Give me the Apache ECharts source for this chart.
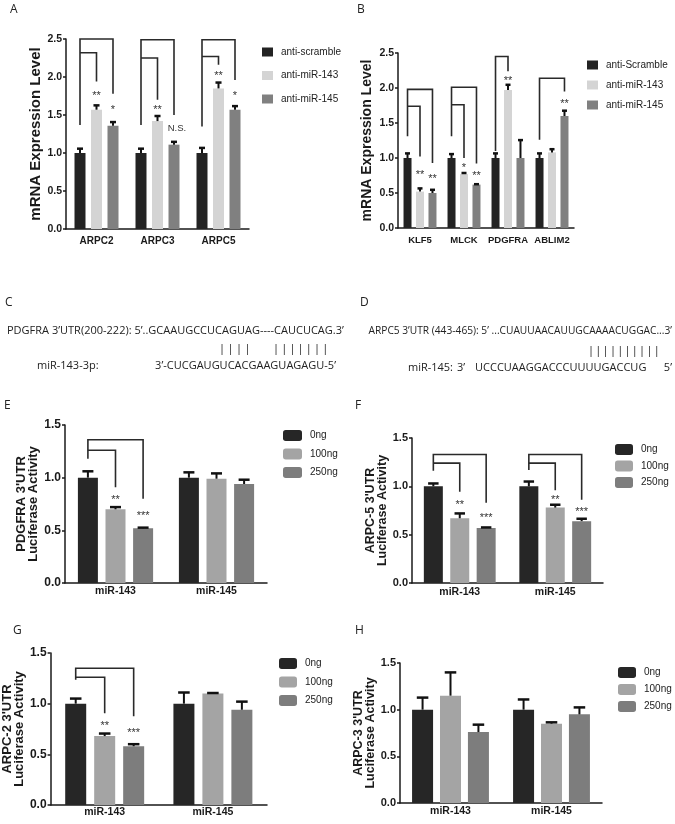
<!DOCTYPE html>
<html><head><meta charset="utf-8">
<script src="https://cdn.jsdelivr.net/npm/echarts@6/dist/echarts.min.js"></script>
<style>html,body{margin:0;padding:0;background:#fff}#c{width:675px;height:824px}</style>
</head><body><div id="c"></div>
<script>
// ---------- Panel A ----------
const catsA = ['ARPC2', 'ARPC3', 'ARPC5'];
const namesA = ['anti-scramble', 'anti-miR-143', 'anti-miR-145'];
const A_scr = [1.00, 1.00, 1.00];
const A_scrErr = [0.07, 0.07, 0.08];
const A_143 = [1.57, 1.42, 1.85];
const A_143Err = [0.07, 0.08, 0.09];
const A_145 = [1.36, 1.11, 1.57];
const A_145Err = [0.06, 0.05, 0.06];
const A_143Sig = ['**', '**', '**'];
const A_145Sig = ['*', 'N.S.', '*'];
// [category, fromBar, toBar, topValue, leftEndValue, rightEndValue]
const A_brackets = [
  [0, 0, 2, 2.50, 1.37, 1.78], [0, 0, 1, 2.32, 2.32, 1.94],
  [1, 0, 2, 2.49, 1.37, 1.50], [1, 0, 1, 2.25, 2.25, 1.70],
  [2, 0, 2, 2.49, 1.35, 1.96], [2, 0, 1, 2.27, 2.27, 2.16]
];

// ---------- Panel B ----------
const catsB = ['KLF5', 'MLCK', 'PDGFRA', 'ABLIM2'];
const namesB = ['anti-Scramble', 'anti-miR-143', 'anti-miR-145'];
const B_scr = [1.00, 1.00, 1.00, 1.00];
const B_scrErr = [0.08, 0.07, 0.08, 0.08];
const B_143 = [0.52, 0.77, 1.97, 1.08];
const B_143Err = [0.06, 0.03, 0.09, 0.06];
const B_145 = [0.50, 0.62, 1.00, 1.60];
const B_145Err = [0.06, 0.02, 0.27, 0.09];
const B_143Sig = ['**', '*', '**', ''];
const B_145Sig = ['**', '**', '', '**'];
const B_brackets = [
  [0, 0, 2, 1.98, 1.31, 0.93], [0, 0, 1, 1.74, 1.74, 1.02],
  [1, 0, 2, 2.01, 1.31, 0.92], [1, 0, 1, 1.76, 1.76, 1.00],
  [2, 0, 1, 2.45, 1.10, 2.24],
  [3, 0, 2, 2.14, 1.26, 1.95]
];

// ---------- Panels E-H ----------
const catsLuc = ['miR-143', 'miR-145'];
const namesLuc = ['0ng', '100ng', '250ng'];

const E_0 = [1.00, 1.00];   const E_0Err = [0.07, 0.06];
const E_100 = [0.70, 0.99]; const E_100Err = [0.03, 0.06];
const E_250 = [0.52, 0.94]; const E_250Err = [0.015, 0.05];
const E_100Sig = ['**', ''];
const E_250Sig = ['***', ''];
const E_brackets = [[0, 0, 2, 1.36, 1.18, 0.80], [0, 0, 1, 1.26, 1.26, 0.91]];

const F_0 = [1.00, 1.00];   const F_0Err = [0.04, 0.06];
const F_100 = [0.67, 0.78]; const F_100Err = [0.06, 0.04];
const F_250 = [0.57, 0.64]; const F_250Err = [0.015, 0.035];
const F_100Sig = ['**', '**'];
const F_250Sig = ['***', '***'];
const F_brackets = [
  [0, 0, 2, 1.33, 1.16, 0.83], [0, 0, 1, 1.24, 1.24, 0.945],
  [1, 0, 2, 1.33, 1.17, 0.86], [1, 0, 1, 1.24, 1.24, 0.96]
];

const G_0 = [1.00, 1.00];   const G_0Err = [0.06, 0.12];
const G_100 = [0.68, 1.10]; const G_100Err = [0.035, 0.015];
const G_250 = [0.58, 0.94]; const G_250Err = [0.03, 0.09];
const G_100Sig = ['**', ''];
const G_250Sig = ['***', ''];
const G_brackets = [[0, 0, 2, 1.35, 1.235, 0.875], [0, 0, 1, 1.26, 1.26, 0.905]];

const H_0 = [1.00, 1.00];   const H_0Err = [0.14, 0.12];
const H_100 = [1.15, 0.85]; const H_100Err = [0.26, 0.025];
const H_250 = [0.76, 0.95]; const H_250Err = [0.09, 0.085];
const H_100Sig = ['', ''];
const H_250Sig = ['', ''];
const H_brackets = [];

// ---------- styling ----------
const FS = "'Liberation Sans',Arial,sans-serif";
const FO = "'Open Sans','Noto Sans',sans-serif";
const colAB = ['#232323', '#d4d4d4', '#808080'];
const colEH = ['#262626', '#a4a4a4', '#7d7d7d'];
const INK = '#1a1a1a';

const panels = [
  { grid: {left: 66, top: 39, width: 183, height: 190}, cats: catsA, names: namesA,
    vals: [A_scr, A_143, A_145], errs: [A_scrErr, A_143Err, A_145Err], sigs: [null, A_143Sig, A_145Sig],
    brackets: A_brackets, colors: colAB, bw: 11, gap: 50, max: 2.5,
    yName: 'mRNA Expression Level', nameGap: 19, nameSize: 15, nameLH: 16, tickSize: 10.5, catSize: 10, catMargin: 7,
    legend: {left: 262, top: 47, w: 11, h: 9, gap: 13.5, icon: 'rect'} },
  { grid: {left: 398, top: 53, width: 176, height: 175}, cats: catsB, names: namesB,
    vals: [B_scr, B_143, B_145], errs: [B_scrErr, B_143Err, B_145Err], sigs: [null, B_143Sig, B_145Sig],
    brackets: B_brackets, colors: colAB, bw: 8, gap: 56, max: 2.5,
    yName: 'mRNA Expression Level', nameGap: 18, nameSize: 14, nameLH: 16, tickSize: 10.5, catSize: 9.5, catMargin: 7,
    legend: {left: 587, top: 60, w: 11, h: 9, gap: 10, icon: 'rect'} },
  { grid: {left: 65, top: 425, width: 202, height: 158}, cats: catsLuc, names: namesLuc,
    vals: [E_0, E_100, E_250], errs: [E_0Err, E_100Err, E_250Err], sigs: [null, E_100Sig, E_250Sig],
    brackets: E_brackets, colors: colEH, bw: 20, gap: 38, max: 1.5,
    yName: "PDGFRA 3'UTR\nLuciferase Activity", nameGap: 24, nameSize: 13, nameLH: 12, tickSize: 12, catSize: 10.5, catMargin: 3,
    legend: {left: 283, top: 430, w: 19, h: 11, gap: 7.5, icon: 'roundRect'} },
  { grid: {left: 412, top: 438, width: 191, height: 145}, cats: catsLuc, names: namesLuc,
    vals: [F_0, F_100, F_250], errs: [F_0Err, F_100Err, F_250Err], sigs: [null, F_100Sig, F_250Sig],
    brackets: F_brackets, colors: colEH, bw: 19, gap: 39, max: 1.5,
    yName: "ARPC-5 3'UTR\nLuciferase Activity", nameGap: 20, nameSize: 12.5, nameLH: 12, tickSize: 11, catSize: 10.5, catMargin: 4,
    legend: {left: 615, top: 444, w: 18, h: 11, gap: 5.5, icon: 'roundRect'} },
  { grid: {left: 49, top: 653, width: 218, height: 152}, cats: catsLuc, names: namesLuc,
    vals: [G_0, G_100, G_250], errs: [G_0Err, G_100Err, G_250Err], sigs: [null, G_100Sig, G_250Sig],
    brackets: G_brackets, colors: colEH, bw: 21, gap: 38, max: 1.5,
    yName: "ARPC-2 3'UTR\nLuciferase Activity", nameGap: 21, nameSize: 13, nameLH: 12, tickSize: 12, catSize: 10.5, catMargin: 2,
    legend: {left: 279, top: 658, w: 18, h: 11, gap: 7.5, icon: 'roundRect'} },
  { grid: {left: 400, top: 663, width: 202, height: 140}, cats: catsLuc, names: namesLuc,
    vals: [H_0, H_100, H_250], errs: [H_0Err, H_100Err, H_250Err], sigs: [null, H_100Sig, H_250Sig],
    brackets: H_brackets, colors: colEH, bw: 21, gap: 33, max: 1.5,
    yName: "ARPC-3 3'UTR\nLuciferase Activity", nameGap: 20, nameSize: 12.5, nameLH: 12, tickSize: 11, catSize: 10.5, catMargin: 3,
    legend: {left: 618, top: 667, w: 18, h: 11, gap: 6, icon: 'roundRect'} }
];

const option = {backgroundColor: '#fff', animation: false, grid: [], xAxis: [], yAxis: [], series: [], legend: [], graphic: []};

panels.forEach((p, k) => {
  option.grid.push(Object.assign({containLabel: false}, p.grid));
  option.xAxis.push({
    type: 'category', gridIndex: k, data: p.cats,
    axisLine: {lineStyle: {color: INK, width: 1.5}},
    axisTick: {alignWithLabel: true, length: 3, lineStyle: {color: INK, width: 1.5}},
    axisLabel: {interval: 0, margin: p.catMargin, fontSize: p.catSize, fontWeight: 'bold', fontFamily: FS, color: INK}
  });
  option.yAxis.push({
    type: 'value', gridIndex: k, min: 0, max: p.max, interval: 0.5,
    name: p.yName, nameLocation: 'middle', nameGap: p.nameGap,
    nameTextStyle: {fontSize: p.nameSize, fontWeight: 'bold', fontFamily: FS, color: INK, lineHeight: p.nameLH},
    axisLine: {show: true, lineStyle: {color: INK, width: 1.5}},
    axisTick: {show: true, length: 3, lineStyle: {color: INK, width: 1.5}},
    axisLabel: {formatter: v => v.toFixed(1), margin: 4, fontSize: p.tickSize, fontWeight: 'bold', fontFamily: FS, color: INK},
    splitLine: {show: false}
  });
  p.names.forEach((nm, s) => {
    option.series.push({
      type: 'bar', name: nm, xAxisIndex: k, yAxisIndex: k, data: p.vals[s],
      barWidth: p.bw, barGap: p.gap + '%', itemStyle: {color: p.colors[s]}, silent: true
    });
  });
  const step = p.bw * (1 + p.gap / 100);
  // error bars
  const errData = [];
  p.vals.forEach((arr, s) => arr.forEach((v, c) => errData.push([c, v + p.errs[s][c], s, v])));
  option.series.push({
    type: 'custom', xAxisIndex: k, yAxisIndex: k, data: errData, encode: {x: 0, y: 1}, z: 5, silent: true, clip: false,
    renderItem: (params, api) => {
      const c = api.value(0), top = api.value(1), s = api.value(2), v = api.value(3);
      const p0 = api.coord([c, v]), p1 = api.coord([c, top]);
      const x = p0[0] + (s - 1) * step;
      const cw = Math.max(5, p.bw * 0.55);
      return {type: 'group', children: [
        {type: 'line', shape: {x1: x, y1: p0[1], x2: x, y2: p1[1] + 1}, style: {stroke: '#111', lineWidth: 2}},
        {type: 'line', shape: {x1: x - cw / 2, y1: p1[1] + 1, x2: x + cw / 2, y2: p1[1] + 1}, style: {stroke: '#111', lineWidth: 2.5}}
      ]};
    }
  });
  // significance brackets and labels
  if (p.brackets.length) {
    option.series.push({
      type: 'custom', xAxisIndex: k, yAxisIndex: k, data: p.brackets.map((b, i) => [b[0], b[3], i]),
      encode: {x: 0, y: 1}, z: 6, silent: true, clip: false,
      renderItem: (params, api) => {
        const b = p.brackets[api.value(2)];
        const cat = b[0];
        const cx = api.coord([cat, 0])[0];
        const x1 = cx + (b[1] - 1) * step, x2 = cx + (b[2] - 1) * step;
        const yT = api.coord([cat, b[3]])[1], yL = api.coord([cat, b[4]])[1], yR = api.coord([cat, b[5]])[1];
        const children = [{type: 'polyline', shape: {points: [[x1, yL], [x1, yT], [x2, yT], [x2, yR]]},
          style: {stroke: '#2a2a2a', lineWidth: 1.6, fill: null}}];
        const sig = p.sigs[b[2]] ? p.sigs[b[2]][cat] : '';
        if (sig) {
          const errTop = p.vals[b[2]][cat] + p.errs[b[2]][cat];
          const ym = api.coord([cat, (errTop + b[5]) / 2])[1];
          const isStar = sig.indexOf('*') >= 0;
          children.push({type: 'text', x: x2 + (isStar ? 0 : 3), y: ym + (isStar ? 3 : 0),
            style: {text: sig, align: 'center', verticalAlign: 'middle', textAlign: 'center', textVerticalAlign: 'middle',
              font: (isStar ? '11px ' : '9.5px ') + FS, fill: '#333'}});
        }
        return {type: 'group', children: children};
      }
    });
  }
  option.legend.push({
    orient: 'vertical', left: p.legend.left, top: p.legend.top, data: p.names,
    itemWidth: p.legend.w, itemHeight: p.legend.h, itemGap: p.legend.gap, icon: p.legend.icon,
    selectedMode: false, padding: 0,
    textStyle: {fontSize: 10, fontFamily: FS, color: '#222', padding: [0, 0, 0, 3]}
  });
});

// ---------- panel letters & sequence panels ----------
function txt(x, y, s, font, align) {
  return {type: 'text', x: x, y: y, silent: true,
    style: {text: s, font: font, fill: '#222', align: align || 'left', verticalAlign: 'middle',
      textAlign: align || 'left', textVerticalAlign: 'middle'}};
}
const LET = "12px " + FO;
const SEQ = "11px " + FO;
const SEQD = "10.2px " + FO;
option.graphic.push(
  txt(10, 9.5, 'A', LET), txt(357, 9.5, 'B', LET), txt(5, 303, 'C', LET), txt(360, 303, 'D', LET),
  txt(4, 406, 'E', LET), txt(355, 406, 'F', LET), txt(13, 631, 'G', LET), txt(355, 631, 'H', LET),
  txt(7, 331, 'PDGFRA 3\u2019UTR(200-222): 5\u2019..GCAAUGCCUCAGUAG----CAUCUCAG.3\u2019', SEQ),
  txt(37, 366, 'miR-143-3p:', SEQ),
  txt(336, 366, '3\u2019-CUCGAUGUCACGAAGUAGAGU-5\u2019', SEQ, 'right'),
  txt(672, 331, 'ARPC5 3\u2019UTR (443-465): 5\u2019 ...CUAUUAACAUUGCAAAACUGGAC...3\u2019', SEQD, 'right'),
  txt(453, 368, 'miR-145:', SEQ, 'right'),
  txt(457, 368, '3\u2019', SEQ),
  txt(475, 368, 'UCCCUAAGGACCCUUUUGACCUG', SEQ),
  txt(672, 368, '5\u2019', SEQ, 'right')
);
// complementarity ticks
const pipeC1 = 4, pipeC2 = 7, pipeD = 10;
for (let i = 0; i < pipeC1; i++) option.graphic.push(txt(222 + i * 8.5, 349, '|', SEQ, 'center'));
for (let i = 0; i < pipeC2; i++) option.graphic.push(txt(276 + i * 8.2, 349, '|', SEQ, 'center'));
for (let i = 0; i < pipeD; i++) option.graphic.push(txt(591 + i * 7.3, 351, '|', SEQ, 'center'));

const chart = echarts.init(document.getElementById('c'), null, {renderer: 'canvas'});
chart.setOption(option);
</script>
</body></html>
